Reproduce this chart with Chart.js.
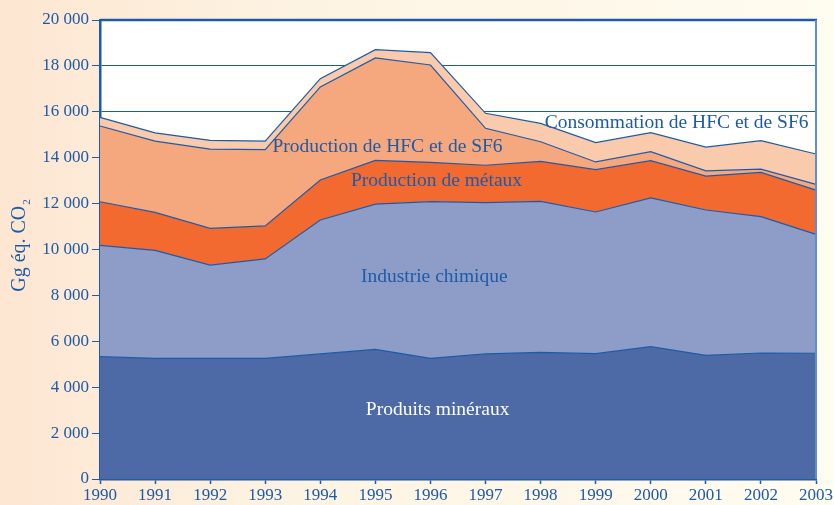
<!DOCTYPE html>
<html>
<head>
<meta charset="utf-8">
<script src="https://cdn.jsdelivr.net/npm/chart.js@4/dist/chart.umd.min.js"></script>
<style>
html,body{margin:0;padding:0;background:#fef6e8;}
#wrap{width:834px;height:505px;position:relative;}
</style>
</head>
<body>
<div id="wrap"><canvas id="c" width="834" height="505"></canvas></div>
<script>
const years = ["1990","1991","1992","1993","1994","1995","1996","1997","1998","1999","2000","2001","2002","2003"];
const produitsMineraux = [5330,5260,5260,5260,5450,5650,5260,5450,5520,5460,5770,5390,5490,5480];
const industrieChimique = [4850,4700,4060,4330,5835,6330,6830,6590,6580,6175,6475,6330,5940,5180];
const productionMetaux = [1900,1655,1600,1440,1745,1905,1710,1630,1740,1845,1625,1480,1930,1930];
const productionHFC = [3300,3105,3455,3325,4055,4460,4240,1610,855,335,390,230,145,250];
const consommationHFC = [380,365,380,365,360,360,535,655,800,840,830,1030,1235,1320];

const yTicks = [0,2000,4000,6000,8000,10000,12000,14000,16000,18000,20000];
const seriesLabels = ["Produits minéraux","Industrie chimique","Production de métaux","Production de HFC et de SF6","Consommation de HFC et de SF6"];

const BLUE = '#1d5ba8';
const FONT = '"Liberation Serif", "Times New Roman", serif';

function fmt(v){
  if (v >= 1000) return Math.floor(v/1000) + ' ' + String(v%1000).padStart(3,'0');
  return String(v);
}

const bgPlugin = {
  id: 'bg',
  beforeDraw(chart){
    const {ctx, chartArea:a} = chart;
    ctx.save();
    const g = ctx.createLinearGradient(0,0,chart.width,0);
    g.addColorStop(0,'#fde6d2');
    g.addColorStop(0.35,'#fdf3e2');
    g.addColorStop(1,'#fffcf0');
    ctx.fillStyle = g;
    ctx.fillRect(0,0,chart.width,chart.height);
    ctx.fillStyle = '#ffffff';
    ctx.fillRect(a.left,a.top,a.right-a.left,a.bottom-a.top);
    ctx.restore();
  },
  afterDatasetsDraw(chart){
    const {ctx, chartArea:a, scales} = chart;
    ctx.save();
    ctx.strokeStyle = BLUE;
    ctx.lineWidth = 2.5;
    ctx.beginPath(); ctx.moveTo(a.left, a.top); ctx.lineTo(a.right+1, a.top); ctx.stroke();
    ctx.strokeStyle = '#5f8fcb';
    ctx.lineWidth = 2;
    ctx.beginPath(); ctx.moveTo(a.right, a.top); ctx.lineTo(a.right, a.bottom); ctx.stroke();

    const x = scales.x, y = scales.y;
    ctx.font = '19.5px ' + FONT;
    ctx.textAlign = 'center';
    ctx.textBaseline = 'alphabetic';
    const lab = (t, xi, yv, col) => {
      ctx.fillStyle = col;
      ctx.fillText(t, x.getPixelForValue(xi), y.getPixelForValue(yv));
    };
    lab(seriesLabels[0], 6.13, 2790, '#ffffff');
    lab(seriesLabels[1], 6.07, 8600, BLUE);
    lab(seriesLabels[2], 6.11, 12780, BLUE);
    lab(seriesLabels[3], 5.22, 14260, BLUE);
    lab(seriesLabels[4], 10.47, 15280, BLUE);

    ctx.save();
    ctx.translate(25, 246);
    ctx.rotate(-Math.PI/2);
    ctx.fillStyle = BLUE;
    ctx.textAlign = 'left';
    const main = 'Gg éq. CO';
    ctx.font = '11px ' + FONT;
    const w2 = ctx.measureText('2').width;
    ctx.font = '20px ' + FONT;
    const wm = ctx.measureText(main).width;
    const start = -(wm + w2)/2;
    ctx.fillText(main, start, 0);
    ctx.font = '11px ' + FONT;
    ctx.fillText('2', start + wm + 1, 5);
    ctx.restore();
    ctx.restore();
  }
};

const common = {borderColor: BLUE, borderWidth: 1.2, pointRadius: 0, tension: 0};
const data = {
  labels: years,
  datasets: [
    Object.assign({label: seriesLabels[0], data: produitsMineraux, backgroundColor: '#4d6aa6', fill: 'origin'}, common),
    Object.assign({label: seriesLabels[1], data: industrieChimique, backgroundColor: '#8e9dc8', fill: '-1'}, common),
    Object.assign({label: seriesLabels[2], data: productionMetaux, backgroundColor: '#f26a2f', fill: '-1'}, common),
    Object.assign({label: seriesLabels[3], data: productionHFC, backgroundColor: '#f5a77d', fill: '-1'}, common),
    Object.assign({label: seriesLabels[4], data: consommationHFC, backgroundColor: '#f9caab', fill: '-1'}, common)
  ]
};

new Chart(document.getElementById('c'), {
  type: 'line',
  data,
  plugins: [bgPlugin],
  options: {
    responsive: false,
    animation: false,
    devicePixelRatio: 1,
    layout: {padding: {top: 20, right: 18, left: 0, bottom: 0}},
    plugins: {legend: {display: false}, tooltip: {enabled: false}},
    scales: {
      x: {
        offset: false,
        grid: {drawOnChartArea: false, color: BLUE, tickLength: 5, tickWidth: 1.5},
        border: {color: BLUE, width: 2.5},
        ticks: {color: BLUE, font: {family: FONT, size: 17}, padding: 1, maxRotation: 0, autoSkip: false},
        afterFit(s){ s.height = 26; }
      },
      y: {
        stacked: true,
        min: 0, max: 20000,
        afterBuildTicks(s){ s.ticks = yTicks.map(v => ({value: v})); },
        grid: {color: BLUE, lineWidth: 1, tickLength: 8, drawTicks: true},
        border: {color: BLUE, width: 2.5},
        ticks: {color: BLUE, font: {family: FONT, size: 17}, padding: 3, callback: v => fmt(v)},
        afterFit(s){ s.width = 100; }
      }
    }
  }
});
</script>
</body>
</html>
